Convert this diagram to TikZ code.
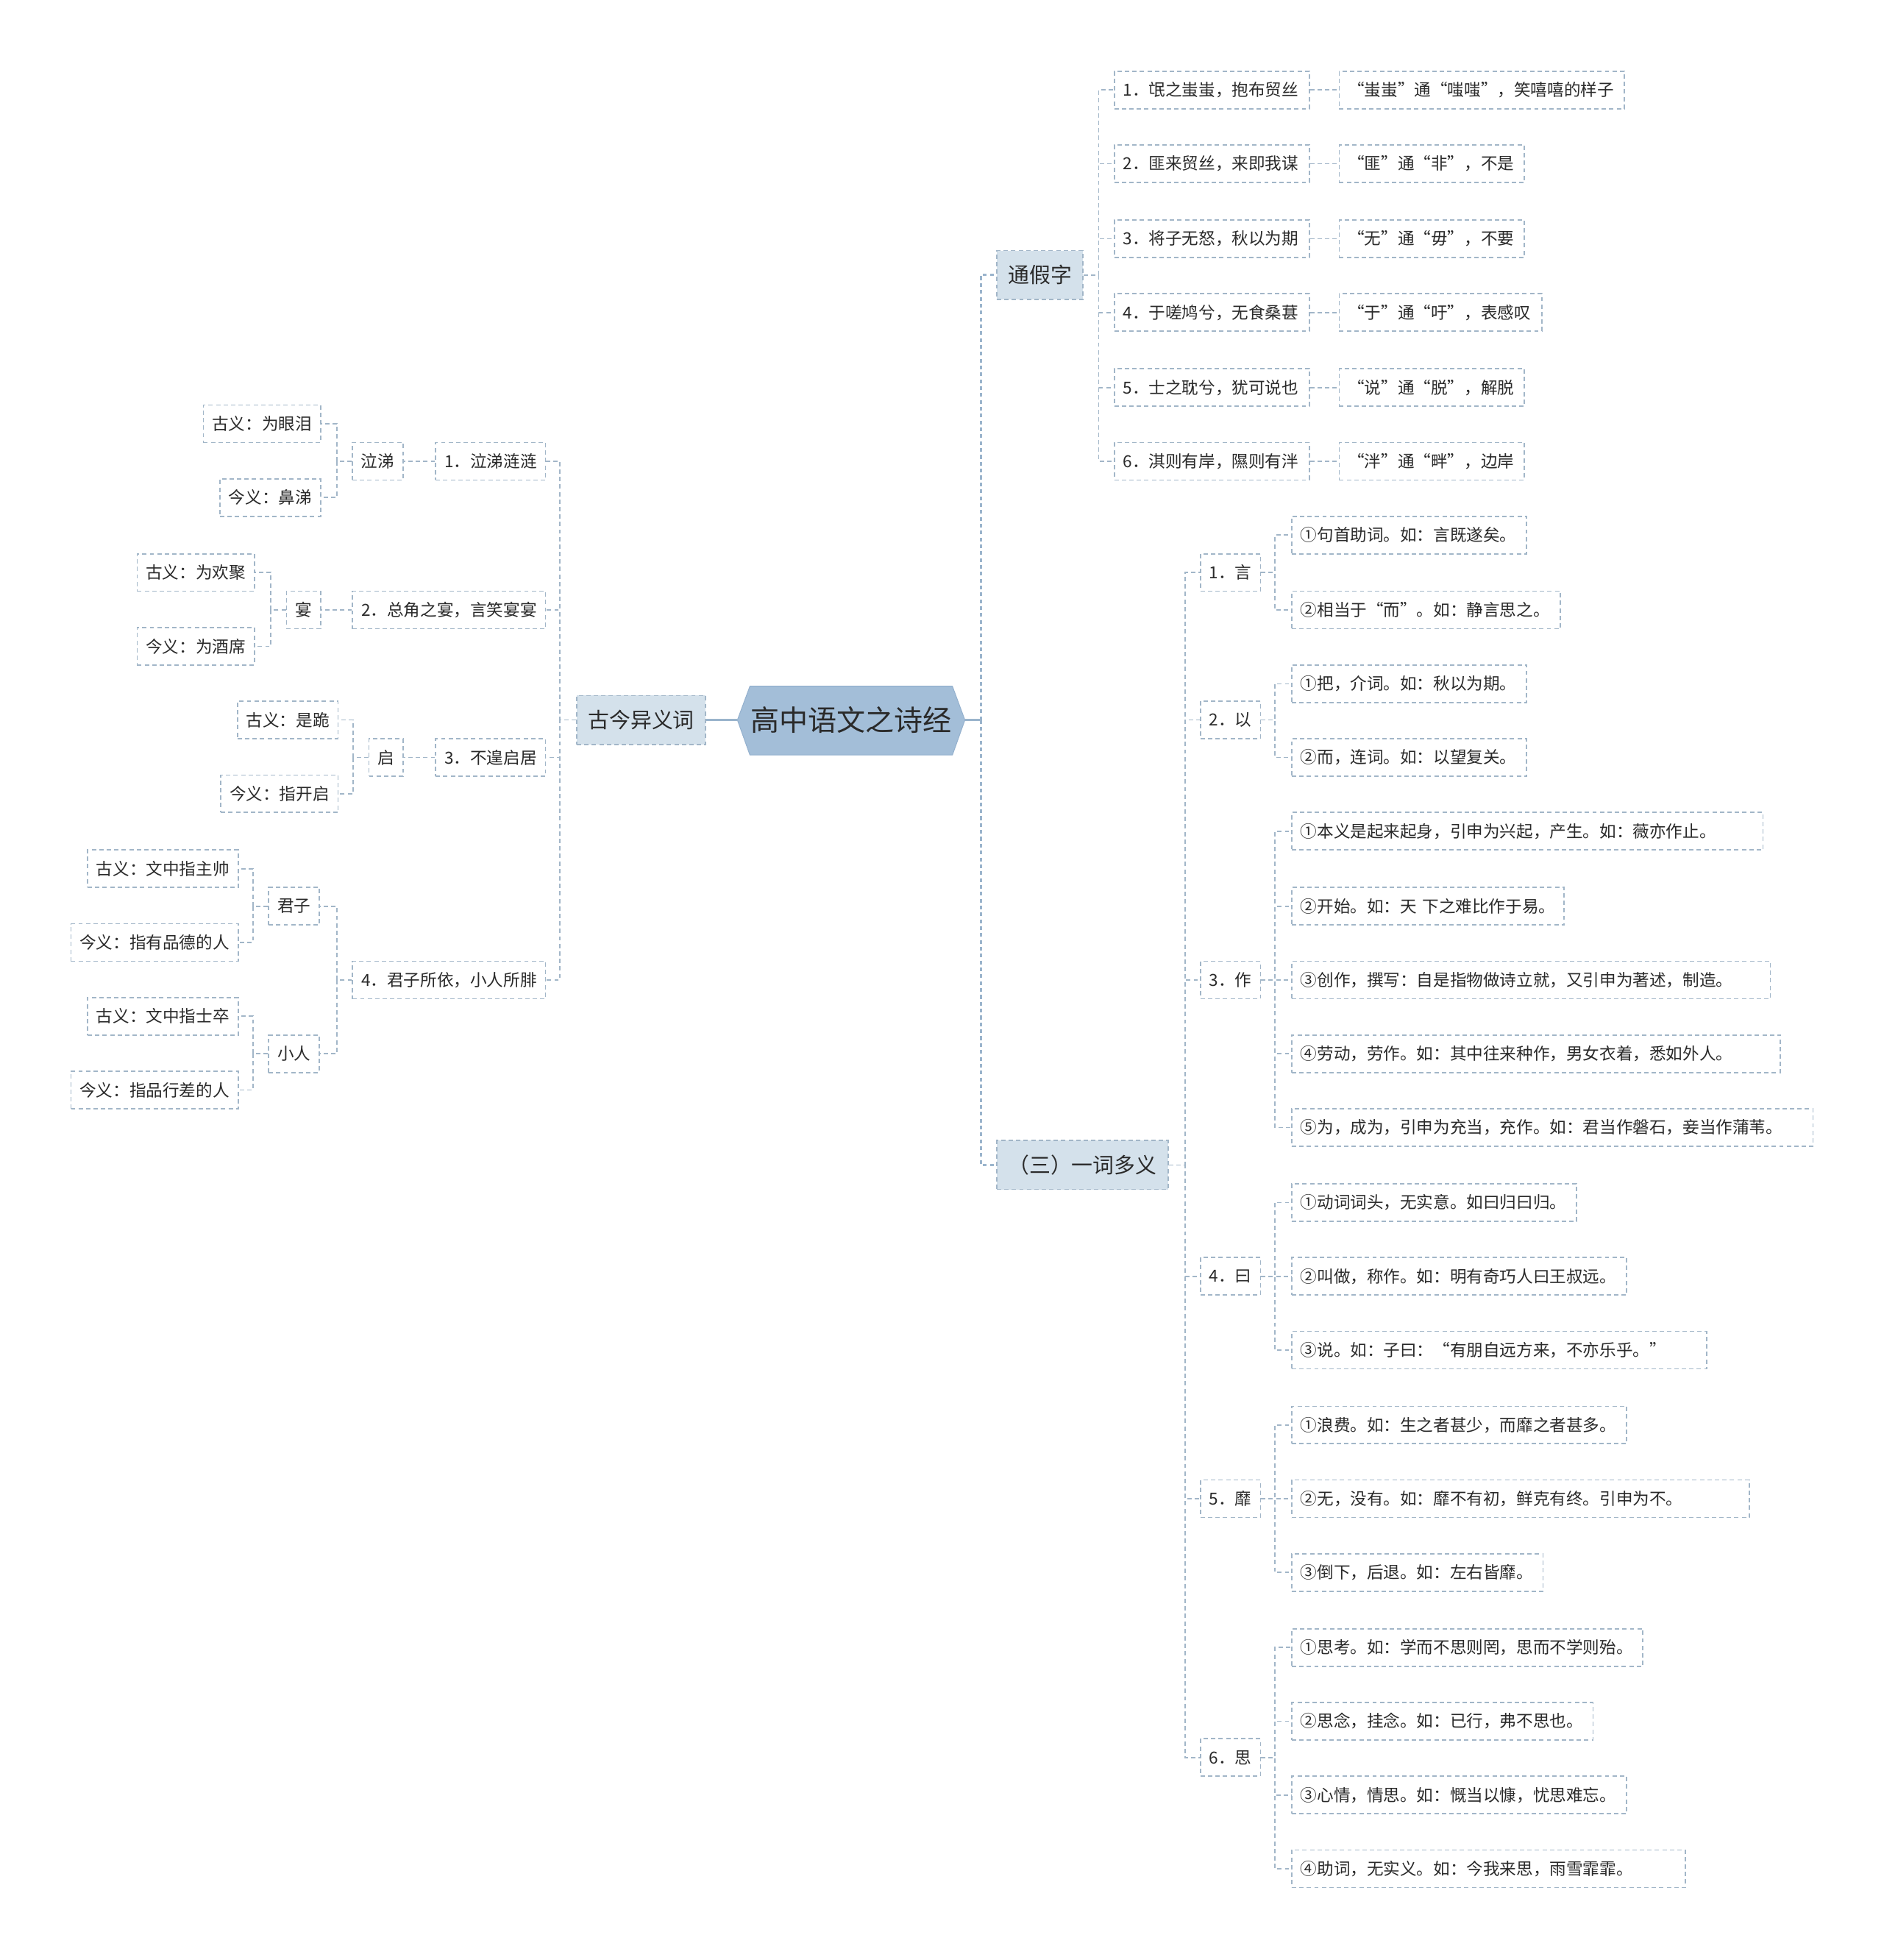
\documentclass[tikz,border=0pt]{standalone}
\usepackage{fontspec}
\setmainfont{Noto Sans CJK SC}
\definecolor{lc}{HTML}{A2B6C8}
\definecolor{mc}{HTML}{9AB4CC}
\definecolor{rootfill}{HTML}{A3BED8}
\definecolor{rootline}{HTML}{94B1CE}
\definecolor{lonefill}{HTML}{D4E1EB}
\definecolor{txt}{HTML}{2A2A2A}
\tikzset{
  base/.style={draw=lc, line width=1pt, dash pattern=on 3.5pt off 2.5pt, text=txt,
    minimum height=30pt, inner xsep=7pt, inner ysep=0pt,
    font=\fontsize{13.3}{16}\selectfont},
  lbox/.style={base, anchor=east},
  rbox/.style={base, anchor=west, align=left},
  nbox/.style={base, anchor=west},
  lone/.style={base, fill=lonefill, minimum height=39pt, inner xsep=9pt,
    font=\fontsize{17}{20}\selectfont},
  conn/.style={draw=lc, line width=1pt, dash pattern=on 3.5pt off 2.5pt},
  mainconn/.style={draw=mc, line width=1.6pt, dash pattern=on 3pt off 2.5pt},
  solidconn/.style={draw=mc, line width=1.6pt},
}
\begin{document}
\begin{tikzpicture}[x=1pt,y=-1pt]
\useasboundingbox (0,0) rectangle (1507,1568);
\fill[white] (0,0) rectangle (1507,1568);

% root
\filldraw[fill=rootfill, draw=rootline, line width=0.6pt]
  (590,576) -- (600,549) -- (762,549) -- (772,576) -- (762,604) -- (600,604) -- cycle;
\node[text=txt, font=\fontsize{23}{26}\selectfont, minimum width=182pt, minimum height=55pt, inner sep=0pt] (root) at (681,576) {高中语文之诗经};

% level 1
\node[lone, anchor=east] (gj) at (565,576) {古今异义词};
\node[lone, anchor=west] (tj) at (797,220) {通假字};
\node[lone, anchor=west] (yc) at (797,932) {（三）一词多义};

\coordinate (hub) at (785,576);
\draw[solidconn] (root.west) -- (gj.east);
\draw[solidconn] (root.east) -- (hub);
\draw[mainconn] (hub) |- (tj.west);
\draw[mainconn] (hub) |- (yc.west);

% ---------- left: 古今异义词 ----------
\node[lbox] (q1) at (437,369) {1．泣涕涟涟};
\node[lbox] (q2) at (437,488) {2．总角之宴，言笑宴宴};
\node[lbox] (q3) at (437,606) {3．不遑启居};
\node[lbox] (q4) at (437,784) {4．君子所依，小人所腓};
\foreach \c in {q1,q2,q3,q4} \draw[conn] (gj.west) -- ++(-13,0) |- (\c.east);

\node[lbox] (qt) at (323,369) {泣涕};
\node[lbox] (yn) at (257,488) {宴};
\node[lbox] (qi) at (323,606) {启};
\node[lbox] (jz) at (256,725) {君子};
\node[lbox] (xr) at (256,843) {小人};
\draw[conn] (q1.west) -- (qt.east);
\draw[conn] (q2.west) -- (yn.east);
\draw[conn] (q3.west) -- (qi.east);
\draw[conn] (q4.west) -- ++(-12,0) |- (jz.east);
\draw[conn] (q4.west) -- ++(-12,0) |- (xr.east);

\node[lbox] (qta) at (257,339) {古义：为眼泪};
\node[lbox] (qtb) at (257,398) {今义：鼻涕};
\node[lbox] (yna) at (204,458) {古义：为欢聚};
\node[lbox] (ynb) at (204,517) {今义：为酒席};
\node[lbox] (qia) at (271,576) {古义：是跪};
\node[lbox] (qib) at (271,635) {今义：指开启};
\node[lbox] (jza) at (191,695) {古义：文中指主帅};
\node[lbox] (jzb) at (191,754) {今义：指有品德的人};
\node[lbox] (xra) at (191,813) {古义：文中指士卒};
\node[lbox] (xrb) at (191,872) {今义：指品行差的人};
\draw[conn] (qt.west) -- ++(-12,0) |- (qta.east);
\draw[conn] (qt.west) -- ++(-12,0) |- (qtb.east);
\draw[conn] (yn.west) -- ++(-12,0) |- (yna.east);
\draw[conn] (yn.west) -- ++(-12,0) |- (ynb.east);
\draw[conn] (qi.west) -- ++(-12,0) |- (qia.east);
\draw[conn] (qi.west) -- ++(-12,0) |- (qib.east);
\draw[conn] (jz.west) -- ++(-12,0) |- (jza.east);
\draw[conn] (jz.west) -- ++(-12,0) |- (jzb.east);
\draw[conn] (xr.west) -- ++(-12,0) |- (xra.east);
\draw[conn] (xr.west) -- ++(-12,0) |- (xrb.east);

% ---------- right: 通假字 ----------
\node[rbox, text width=142pt] (t1) at (891,72) {1．氓之蚩蚩，抱布贸丝};
\node[rbox, text width=142pt] (t2) at (891,131) {2．匪来贸丝，来即我谋};
\node[rbox, text width=142pt] (t3) at (891,191) {3．将子无怒，秋以为期};
\node[rbox, text width=142pt] (t4) at (891,250) {4．于嗟鸠兮，无食桑葚};
\node[rbox, text width=142pt] (t5) at (891,310) {5．士之耽兮，犹可说也};
\node[rbox, text width=142pt] (t6) at (891,369) {6．淇则有岸，隰则有泮};
\foreach \c in {t1,t2,t3,t4,t5,t6} \draw[conn] (tj.east) -- ++(12,0) |- (\c.west);

\node[rbox, text width=214pt] (u1) at (1071,72) {“蚩蚩”通“嗤嗤”，笑嘻嘻的样子};
\node[rbox, text width=134pt] (u2) at (1071,131) {“匪”通“非”，不是};
\node[rbox, text width=134pt] (u3) at (1071,191) {“无”通“毋”，不要};
\node[rbox, text width=148pt] (u4) at (1071,250) {“于”通“吁”，表感叹};
\node[rbox, text width=134pt] (u5) at (1071,310) {“说”通“脱”，解脱};
\node[rbox, text width=134pt] (u6) at (1071,369) {“泮”通“畔”，边岸};
\draw[conn] (t1.east) -- (u1.west);
\draw[conn] (t2.east) -- (u2.west);
\draw[conn] (t3.east) -- (u3.west);
\draw[conn] (t4.east) -- (u4.west);
\draw[conn] (t5.east) -- (u5.west);
\draw[conn] (t6.east) -- (u6.west);

% ---------- right: 一词多义 ----------
\node[nbox] (n1) at (960,458) {1．言};
\node[nbox] (n2) at (960,576) {2．以};
\node[nbox] (n3) at (960,784) {3．作};
\node[nbox] (n4) at (960,1021) {4．曰};
\node[nbox] (n5) at (960,1199) {5．靡};
\node[nbox] (n6) at (960,1406) {6．思};
\foreach \c in {n1,n2,n3,n4,n5,n6} \draw[conn] (yc.east) -- ++(13,0) |- (\c.west);

\node[rbox, text width=174pt] (a1) at (1033,428) {①句首助词。如：言既遂矣。};
\node[rbox, text width=201pt] (a2) at (1033,488) {②相当于“而”。如：静言思之。};
\draw[conn] (n1.east) -- ++(11,0) |- (a1.west);
\draw[conn] (n1.east) -- ++(11,0) |- (a2.west);

\node[rbox, text width=174pt] (b1) at (1033,547) {①把，介词。如：秋以为期。};
\node[rbox, text width=174pt] (b2) at (1033,606) {②而，连词。如：以望复关。};
\draw[conn] (n2.east) -- ++(11,0) |- (b1.west);
\draw[conn] (n2.east) -- ++(11,0) |- (b2.west);

\node[rbox, text width=363pt] (c1) at (1033,665) {①本义是起来起身，引申为兴起，产生。如：薇亦作止。};
\node[rbox, text width=204pt] (c2) at (1033,725) {②开始。如：天 下之难比作于易。};
\node[rbox, text width=369pt] (c3) at (1033,784) {③创作，撰写：自是指物做诗立就，又引申为著述，制造。};
\node[rbox, text width=377pt] (c4) at (1033,843) {④劳动，劳作。如：其中往来种作，男女衣着，悉如外人。};
\node[rbox, text width=403pt] (c5) at (1033,902) {⑤为，成为，引申为充当，充作。如：君当作磐石，妾当作蒲苇。};
\foreach \c in {c1,c2,c3,c4,c5} \draw[conn] (n3.east) -- ++(11,0) |- (\c.west);

\node[rbox, text width=214pt] (d1) at (1033,962) {①动词词头，无实意。如曰归曰归。};
\node[rbox, text width=254pt] (d2) at (1033,1021) {②叫做，称作。如：明有奇巧人曰王叔远。};
\node[rbox, text width=318pt] (d3) at (1033,1080) {③说。如：子曰：“有朋自远方来，不亦乐乎。”};
\foreach \c in {d1,d2,d3} \draw[conn] (n4.east) -- ++(11,0) |- (\c.west);

\node[rbox, text width=254pt] (e1) at (1033,1140) {①浪费。如：生之者甚少，而靡之者甚多。};
\node[rbox, text width=352pt] (e2) at (1033,1199) {②无，没有。如：靡不有初，鲜克有终。引申为不。};
\node[rbox, text width=187pt] (e3) at (1033,1258) {③倒下，后退。如：左右皆靡。};
\foreach \c in {e1,e2,e3} \draw[conn] (n5.east) -- ++(11,0) |- (\c.west);

\node[rbox, text width=267pt] (f1) at (1033,1318) {①思考。如：学而不思则罔，思而不学则殆。};
\node[rbox, text width=227pt] (f2) at (1033,1377) {②思念，挂念。如：已行，弗不思也。};
\node[rbox, text width=254pt] (f3) at (1033,1436) {③心情，情思。如：慨当以慷，忧思难忘。};
\node[rbox, text width=301pt] (f4) at (1033,1495) {④助词，无实义。如：今我来思，雨雪霏霏。};
\foreach \c in {f1,f2,f3,f4} \draw[conn] (n6.east) -- ++(11,0) |- (\c.west);
\end{tikzpicture}
\end{document}
